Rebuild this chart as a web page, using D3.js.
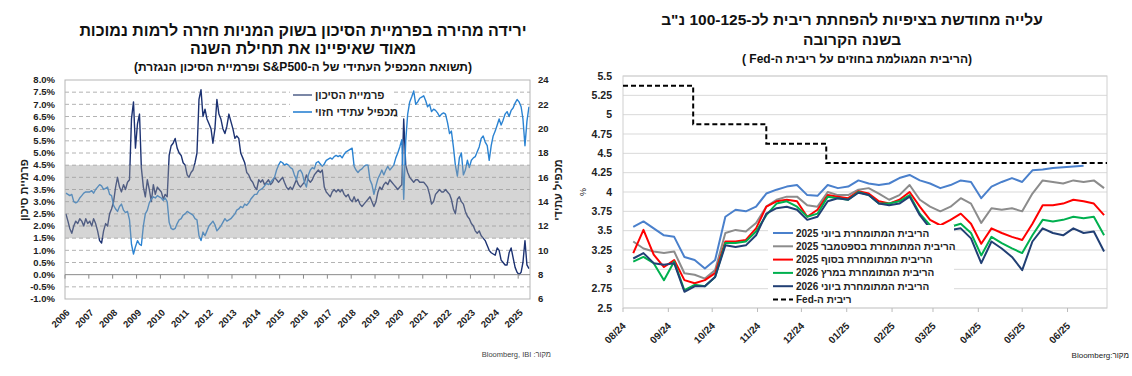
<!DOCTYPE html>
<html><head><meta charset="utf-8">
<script src="https://cdn.jsdelivr.net/npm/d3@7"></script>
<style>
html,body{margin:0;padding:0;background:#fff;}
svg{display:block;font-family:"Liberation Sans",Arial,sans-serif;}
</style></head><body>
<svg id="c" width="1132" height="376"></svg>
<script>
// ---------------- LEFT CHART DATA (monthly, from Jan 2006) ----------------
const premiumStart = "2006-01";
const premiumValues = [
 2.5,2.2,1.9,1.7,2.0,2.2,2.1,2.3,2.2,2.0,2.3,2.1,
 2.2,2.0,2.3,2.1,1.8,1.4,1.3,1.8,2.1,2.0,2.5,2.7,
 3.0,3.6,4.0,3.6,3.4,3.7,3.5,3.8,3.9,6.4,7.1,5.2,
 6.2,6.6,4.4,3.6,3.2,3.9,3.5,3.0,3.7,3.3,3.6,3.5,
 3.4,3.1,3.3,3.2,4.9,5.3,5.4,5.6,5.2,5.0,4.9,4.6,
 4.5,4.1,4.0,4.2,4.3,4.6,5.0,7.2,7.6,6.5,6.8,6.4,
 6.2,6.0,5.4,6.0,7.2,6.6,6.4,6.0,5.8,6.1,6.6,6.3,
 6.0,5.6,5.7,5.6,5.0,4.8,4.6,4.2,4.1,3.9,3.8,3.6,
 3.5,3.9,3.8,3.9,3.7,3.8,3.9,3.7,3.8,4.0,3.9,3.8,
 3.9,4.0,3.8,3.6,3.5,3.6,3.5,3.7,3.9,3.7,3.6,3.7,
 3.8,4.1,3.9,3.8,3.9,4.1,4.2,4.3,4.2,4.3,3.6,3.4,
 3.3,3.2,3.4,3.5,3.4,3.5,3.4,3.5,3.3,3.2,3.3,3.1,
 3.0,3.2,3.0,3.1,2.9,2.8,2.9,3.0,3.1,3.2,3.0,2.8,
 3.0,3.4,3.6,3.5,3.7,3.8,3.7,3.9,3.8,3.7,3.6,3.5,
 3.6,3.7,6.4,4.5,4.2,4.0,3.9,3.8,3.9,3.9,3.8,3.8,
 3.8,3.7,3.6,3.3,2.9,3.0,3.3,3.4,3.5,3.4,3.4,3.5,
 3.4,3.3,3.1,2.7,2.5,3.1,3.2,3.0,2.9,2.6,2.4,2.3,
 2.1,2.0,1.8,1.7,1.8,1.6,1.5,1.4,1.2,1.0,0.9,0.85,
 0.8,1.1,1.0,0.6,0.5,0.4,0.4,0.9,1.1,0.7,0.3,0.1,
 0.0,0.1,0.5,1.4,0.4,0.25
];
const peValues = [
 14.7,14.6,14.5,14.6,14.0,13.9,14.0,14.3,14.5,14.7,14.8,14.8,
 14.8,14.9,14.7,15.0,15.2,15.4,15.3,15.0,15.1,15.2,14.6,14.5,
 13.7,13.4,13.2,13.6,13.8,13.3,13.1,13.2,12.5,10.5,9.7,10.3,
 10.8,10.5,10.4,12.0,13.0,13.3,13.9,14.2,14.4,14.3,14.5,14.4,
 14.3,14.1,14.3,14.0,12.3,11.8,11.7,11.8,12.2,12.5,12.6,12.9,
 13.0,13.2,13.1,13.0,12.9,12.6,12.5,11.2,10.8,11.5,11.2,11.6,
 12.0,12.2,12.4,12.1,11.6,11.8,12.0,12.3,12.6,12.4,12.5,12.6,
 12.8,13.0,13.3,13.4,13.6,13.5,13.8,13.7,13.9,14.2,14.4,14.6,
 14.6,14.9,15.0,15.1,15.3,15.5,15.4,15.6,15.8,16.0,16.6,17.0,
 17.3,17.2,17.0,17.1,17.0,16.8,16.7,16.2,15.8,16.5,16.6,16.3,
 15.6,15.2,16.2,16.6,16.8,16.7,17.2,17.3,17.1,16.9,17.1,17.4,
 17.5,17.6,17.5,17.7,17.8,17.7,17.8,17.6,17.9,18.1,18.2,18.3,
 18.4,16.9,16.6,16.4,16.6,16.7,16.9,17.0,17.0,15.8,15.4,14.6,
 15.3,15.9,16.2,16.6,16.2,16.6,16.9,16.6,16.8,17.0,17.6,18.0,
 18.5,19.1,14.2,19.0,21.2,22.2,22.6,23.1,22.0,22.2,22.5,22.6,
 22.7,22.3,21.8,22.0,21.4,21.6,21.5,21.3,21.0,21.2,21.3,21.2,
 20.5,19.6,19.8,18.5,17.0,16.1,17.6,18.0,16.2,16.6,17.4,16.8,
 17.4,17.6,17.7,18.1,18.5,19.2,19.4,18.9,18.6,17.4,18.6,19.4,
 19.8,20.3,20.8,20.3,20.7,21.2,21.4,21.0,21.5,21.7,22.1,22.4,
 22.2,21.8,20.8,18.6,20.6,21.8
];
const premiumBand = [1.5, 4.5];
const premiumTicks = [-1,-0.5,0,0.5,1,1.5,2,2.5,3,3.5,4,4.5,5,5.5,6,6.5,7,7.5,8];
const peTicks = [6,8,10,12,14,16,18,20,22,24];
const yearTicks = [2006,2007,2008,2009,2010,2011,2012,2013,2014,2015,2016,2017,2018,2019,2020,2021,2022,2023,2024,2025];
const leftTitle = ["ירידה מהירה בפרמיית הסיכון בשוק המניות חזרה לרמות נמוכות","מאוד שאיפיינו את תחילת השנה"];
const leftSubtitle = "(תשואת המכפיל העתידי של ה-S&P500 ופרמיית הסיכון הנגזרת)";
const leftLegend = ["פרמיית הסיכון","מכפיל עתידי חזוי"];

// ---------------- RIGHT CHART DATA (weekly) ----------------
const rateDates = ["2024-08-08","2024-08-15","2024-08-22","2024-08-29","2024-09-05","2024-09-12","2024-09-19","2024-09-26",
 "2024-10-03","2024-10-10","2024-10-17","2024-10-24","2024-10-31","2024-11-07","2024-11-14","2024-11-21","2024-11-28",
 "2024-12-05","2024-12-12","2024-12-19","2024-12-26","2025-01-02","2025-01-09","2025-01-16","2025-01-23","2025-01-30",
 "2025-02-06","2025-02-13","2025-02-20","2025-02-27","2025-03-06","2025-03-13","2025-03-20","2025-03-27",
 "2025-04-03","2025-04-10","2025-04-17","2025-04-24","2025-05-01","2025-05-08","2025-05-15","2025-05-22","2025-05-29",
 "2025-06-05","2025-06-12","2025-06-19","2025-06-26"];
const rateJun25 = [3.55,3.62,3.53,3.44,3.42,3.16,3.12,3.01,3.12,3.68,3.77,3.75,3.81,3.98,4.03,4.07,4.09,3.96,3.95,4.09,4.05,4.07,4.15,
 4.11,4.09,4.11,4.18,4.22,4.15,4.11,4.05,4.09,4.15,4.13,3.92,4.07,4.13,4.18,4.13,4.28,4.29,4.31,4.32,4.33,4.34,null,null];
const rateSep25 = [3.36,3.27,3.23,3.21,3.23,2.95,2.93,2.88,2.99,3.47,3.51,3.49,3.60,3.81,3.90,3.94,3.94,3.83,3.81,4.00,3.96,3.96,4.03,
 4.05,3.98,3.90,3.96,4.09,3.90,3.81,3.75,3.81,3.92,3.85,3.60,3.79,3.77,3.79,3.75,3.98,4.15,4.13,4.11,4.15,4.13,4.15,4.05];
const rateDec25 = [3.21,3.51,3.19,3.03,3.12,2.86,2.82,2.86,2.95,3.36,3.36,3.38,3.53,3.81,3.88,3.90,3.88,3.68,3.77,3.96,3.94,3.92,4.01,
 3.98,3.88,3.85,3.90,4.00,3.81,3.64,3.57,3.64,3.72,3.59,3.33,3.53,3.47,3.42,3.38,3.59,3.83,3.83,3.85,3.90,3.88,3.85,3.70];
const rateMar26 = [3.10,3.16,3.08,2.86,3.10,2.73,2.80,2.78,2.90,3.34,3.34,3.36,3.49,3.70,3.85,3.88,3.81,3.68,3.72,3.94,3.92,3.90,4.00,
 3.96,3.85,3.85,3.88,3.96,3.72,3.57,3.44,3.55,3.59,3.47,3.18,3.42,3.34,3.27,3.21,3.44,3.64,3.62,3.64,3.68,3.66,3.68,3.44];
const rateJun26 = [3.14,3.21,3.08,3.06,3.08,2.71,2.78,2.78,2.90,3.31,3.29,3.31,3.44,3.72,3.79,3.81,3.77,3.64,3.68,3.88,3.92,3.90,3.99,
 3.96,3.85,3.83,3.85,3.94,3.70,3.53,3.38,3.51,3.53,3.40,3.08,3.36,3.27,3.16,2.99,3.36,3.53,3.47,3.44,3.53,3.47,3.49,3.23];
const fedDates = ["2024-08-01","2024-09-18","2024-11-07","2024-12-18","2025-06-28"];
const fedValues = [5.375,4.875,4.625,4.375,4.375];
const rateTicks = [2.5,2.75,3,3.25,3.5,3.75,4,4.25,4.5,4.75,5,5.25,5.5];
const monthTicks = ["2024-08-01","2024-09-01","2024-10-01","2024-11-01","2024-12-01","2025-01-01","2025-02-01","2025-03-01","2025-04-01","2025-05-01","2025-06-01"];
const rightTitle = ["עלייה מחודשת בציפיות להפחתת ריבית לכ-100-125 נ\"ב","בשנה הקרובה"];
const rightSubtitle = "(הריבית המגולמת בחוזים על ריבית ה-Fed )";
const rateLegend = ["הריבית המתומחרת ביוני 2025","הריבית המתומחרת בספטמבר 2025","הריבית המתומחרת בסוף 2025","הריבית המתומחרת במרץ 2026","הריבית המתומחרת ביוני 2026","ריבית ה-Fed"];

// ---------------- DRAW ----------------
const svg = d3.select("#c");
const parse = d3.timeParse("%Y-%m-%d");
function heb(sel){ return sel.attr("direction","rtl").style("direction","rtl").style("unicode-bidi","embed"); }

// ===== LEFT =====
const L = {x0:65, x1:530, y0:80, y1:299};
const xL = d3.scaleTime().domain([new Date(2006,0,1), new Date(2025,6,1)]).range([L.x0, L.x1]);
const yL = d3.scaleLinear().domain([-1,8]).range([L.y1, L.y0]);
const yP = d3.scaleLinear().domain([6,24]).range([L.y1, L.y0]);
const [ps, pm] = premiumStart.split("-").map(Number);
const monthDate = i => new Date(ps, pm-1+i, 15);
const gL = svg.append("g");

// titles
gL.selectAll("text.t").data(leftTitle).join("text").attr("class","t")
  .attr("x",303).attr("y",(d,i)=>36+i*18).attr("text-anchor","middle")
  .attr("font-size",16).attr("font-weight","bold").attr("fill","#111").text(d=>d).call(heb);
gL.append("text").attr("x",303).attr("y",71).attr("text-anchor","middle")
  .attr("font-size",12).attr("font-weight","bold").attr("fill","#111").text(leftSubtitle).call(heb);

// gridlines
gL.selectAll("line.g").data(premiumTicks.filter(v=>v>-1 && v<8 && v!==0)).join("line")
  .attr("x1",L.x0).attr("x2",L.x1).attr("y1",d=>yL(d)).attr("y2",d=>yL(d))
  .attr("stroke","#a0a0a0").attr("stroke-width",0.8).attr("stroke-dasharray","4,3");

// lines
const linePrem = d3.line().x((d,i)=>xL(monthDate(i))).y(d=>yL(d));
const linePE = d3.line().x((d,i)=>xL(monthDate(i))).y(d=>yP(d));
gL.append("path").datum(premiumValues).attr("d",linePrem).attr("fill","none").attr("stroke","#1c3272").attr("stroke-width",1.4).attr("stroke-linejoin","round");
gL.append("path").datum(peValues).attr("d",linePE).attr("fill","none").attr("stroke","#2b83d2").attr("stroke-width",1.4).attr("stroke-linejoin","round");

// band overlay
gL.append("rect").attr("x",L.x0).attr("width",L.x1-L.x0)
  .attr("y",yL(premiumBand[1])).attr("height",yL(premiumBand[0])-yL(premiumBand[1]))
  .attr("fill","#9a9a9a").attr("opacity",0.42);

// border
gL.append("rect").attr("x",L.x0).attr("y",L.y0).attr("width",L.x1-L.x0).attr("height",L.y1-L.y0)
  .attr("fill","none").attr("stroke","#b5b5b5").attr("stroke-width",1);
// x axis at 0
gL.append("line").attr("x1",L.x0).attr("x2",L.x1).attr("y1",yL(0)).attr("y2",yL(0)).attr("stroke","#8a8a8a").attr("stroke-width",1);
gL.selectAll("line.xt").data(yearTicks).join("line")
  .attr("x1",d=>xL(new Date(d,0,1))).attr("x2",d=>xL(new Date(d,0,1)))
  .attr("y1",yL(0)).attr("y2",yL(0)+4).attr("stroke","#8a8a8a");
gL.selectAll("text.xl").data(yearTicks).join("text")
  .attr("transform",d=>`translate(${xL(new Date(d,0,1))+3},${311}) rotate(-45)`)
  .attr("text-anchor","end").attr("dy","0.35em").attr("font-size",9.5).attr("font-weight","bold").attr("fill","#222").text(d=>d);

// y labels
gL.selectAll("text.yl").data(premiumTicks).join("text")
  .attr("x",55).attr("y",d=>yL(d)).attr("dy","0.35em").attr("text-anchor","end")
  .attr("font-size",9.5).attr("font-weight","bold").attr("fill","#222").text(d=>d.toFixed(1)+"%");
gL.selectAll("text.yr").data(peTicks).join("text")
  .attr("x",538).attr("y",d=>yP(d)).attr("dy","0.35em").attr("text-anchor","start")
  .attr("font-size",9.5).attr("font-weight","bold").attr("fill","#222").text(d=>d);

// axis titles
gL.append("text").attr("transform","translate(24,190) rotate(-90)").attr("text-anchor","middle").attr("dy","0.35em")
  .attr("font-size",11).attr("font-weight","bold").attr("fill","#222").text("פרמיית סיכון").call(heb);
gL.append("text").attr("transform","translate(558,190) rotate(-90)").attr("text-anchor","middle").attr("dy","0.35em")
  .attr("font-size",11).attr("font-weight","bold").attr("fill","#222").text("מכפיל עתידי").call(heb);

// legend
gL.append("rect").attr("x",290).attr("y",86).attr("width",104).attr("height",34).attr("fill","#fff");
[["#5a6a90",leftLegend[0]],["#2b83d2",leftLegend[1]]].forEach(([c,t],i)=>{
  const y = 95 + i*17;
  gL.append("line").attr("x1",293).attr("x2",312).attr("y1",y).attr("y2",y).attr("stroke",c).attr("stroke-width",1.6);
  gL.append("text").attr("x",315).attr("y",y).attr("dy","0.35em").attr("text-anchor","end")
    .attr("font-size",11).attr("font-weight","bold").attr("fill","#222").text(t).call(heb);
});

// source
gL.append("text").attr("x",551).attr("y",357).attr("text-anchor","start").attr("font-size",7.5).attr("fill","#444")
  .text("מקור: Bloomberg, IBI").call(heb);

// ===== RIGHT =====
const R = {x0:623, x1:1107, y0:76, y1:308};
const xR = d3.scaleTime().domain([parse("2024-08-01"), parse("2025-06-28")]).range([R.x0, R.x1]);
const yRt = d3.scaleLinear().domain([2.5,5.5]).range([R.y1, R.y0]);
const gR = svg.append("g");

gR.selectAll("text.t").data(rightTitle).join("text")
  .attr("x",852).attr("y",(d,i)=>25+i*20).attr("text-anchor","middle")
  .attr("font-size",15.5).attr("font-weight","bold").attr("fill","#111").text(d=>d).call(heb);
gR.append("text").attr("x",857).attr("y",63).attr("text-anchor","middle")
  .attr("font-size",12).attr("font-weight","bold").attr("fill","#111").text(rightSubtitle).call(heb);

gR.selectAll("line.g").data(rateTicks).join("line")
  .attr("x1",R.x0).attr("x2",R.x1).attr("y1",d=>yRt(d)).attr("y2",d=>yRt(d))
  .attr("stroke","#d9d9d9").attr("stroke-width",1);
gR.append("rect").attr("x",R.x0).attr("y",R.y0).attr("width",R.x1-R.x0).attr("height",R.y1-R.y0)
  .attr("fill","none").attr("stroke","#d0d0d0");

gR.selectAll("text.yl").data(rateTicks).join("text")
  .attr("x",612).attr("y",d=>yRt(d)).attr("dy","0.35em").attr("text-anchor","end")
  .attr("font-size",10.5).attr("font-weight","bold").attr("fill","#222").text(d=>String(d));
gR.append("text").attr("transform","translate(583,192) rotate(-90)").attr("text-anchor","middle").attr("dy","0.35em")
  .attr("font-size",9).attr("fill","#222").text("%");

const mt = monthTicks.map(parse);
gR.selectAll("line.xt").data(mt).join("line")
  .attr("x1",d=>xR(d)).attr("x2",d=>xR(d)).attr("y1",R.y1).attr("y2",R.y1+4).attr("stroke","#bbb");
gR.selectAll("text.xl").data(mt).join("text")
  .attr("transform",d=>`translate(${xR(d)+1},${324}) rotate(-45)`)
  .attr("text-anchor","end").attr("dy","0.35em").attr("font-size",10).attr("font-weight","bold").attr("fill","#222")
  .text(d=>d3.timeFormat("%m/%y")(d));

const rd = rateDates.map(parse);
const series = [
  {v:rateJun25, c:"#4a80cc"},
  {v:rateSep25, c:"#8c8c8c"},
  {v:rateDec25, c:"#ff0000"},
  {v:rateMar26, c:"#00b04f"},
  {v:rateJun26, c:"#213f74"}
];
const lineR = d3.line().defined(d=>d[1]!=null).x(d=>xR(d[0])).y(d=>yRt(d[1]));
series.forEach(s=>{
  gR.append("path").datum(rd.map((d,i)=>[d,s.v[i]])).attr("d",lineR)
    .attr("fill","none").attr("stroke",s.c).attr("stroke-width",2).attr("stroke-linejoin","round");
});
const fedLine = d3.line().curve(d3.curveStepAfter).x(d=>xR(d[0])).y(d=>yRt(d[1]));
gR.append("path").datum(fedDates.map((d,i)=>[parse(d),fedValues[i]])).attr("d",fedLine)
  .attr("fill","none").attr("stroke","#000").attr("stroke-width",2).attr("stroke-dasharray","5,3");

// legend
gR.append("rect").attr("x",768).attr("y",225).attr("width",186).attr("height",81).attr("fill","#fff");
const legColors = series.map(s=>s.c).concat(["#000"]);
rateLegend.forEach((t,i)=>{
  const y = 233 + i*13.3;
  gR.append("line").attr("x1",773).attr("x2",793).attr("y1",y).attr("y2",y).attr("stroke",legColors[i]).attr("stroke-width",2)
    .attr("stroke-dasharray", i===5 ? "5,3" : null);
  gR.append("text").attr("x",796).attr("y",y).attr("dy","0.35em").attr("text-anchor","end")
    .attr("font-size",10).attr("font-weight","bold").attr("fill","#222").text(t).call(heb);
});

gR.append("text").attr("x",1129).attr("y",358).attr("text-anchor","start").attr("font-size",8).attr("fill","#222")
  .text("מקור:Bloomberg").call(heb);
</script>
</body></html>
